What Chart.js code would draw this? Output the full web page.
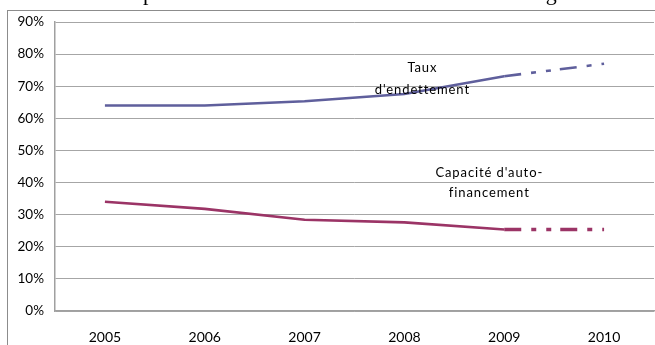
<!DOCTYPE html>
<html>
<head>
<meta charset="utf-8">
<script src="https://cdn.jsdelivr.net/npm/chart.js@4"></script>
<style>
  body { margin: 0; background: #fff; }
  canvas { display: block; }
</style>
</head>
<body>
<canvas id="chart" width="655" height="345"></canvas>
<script>
// Données
const years = ['2005', '2006', '2007', '2008', '2009', '2010'];
const tauxEndettement = [64, 64, 65.3, 67.6, 73.1, 77];
const capaciteAutofinancement = [34, 31.8, 28.4, 27.6, 25.4, 25.4];
const yTicks = [0, 10, 20, 30, 40, 50, 60, 70, 80, 90];

// Étiquettes posées dans le graphique (en valeurs d'axe)
const labelTaux = ['Taux', "d'endettement"];
const labelCaf = ["Capacité d'auto-", 'financement'];
const titre = "Capacité d'autofinancement et endettement à long terme";

const projection = [17, 10, 5, 10, 5, 9];
const dashLast = ctx => ctx.p0DataIndex === 4 ? projection : undefined;

const decor = {
    id: 'decor',
    beforeDraw(chart) {
        const c = chart.ctx;
        c.save();
        c.strokeStyle = '#8c8c8c';
        c.lineWidth = 1;
        c.strokeRect(7.5, 10.5, 700, 400);
        c.restore();
    },
    afterDraw(chart) {
        const c = chart.ctx;
        const x = chart.scales.x, y = chart.scales.y;
        c.save();
        c.fillStyle = '#000';
        c.font = '13px Lato';
        c.letterSpacing = '0.9px';
        c.textAlign = 'center';
        c.textBaseline = 'middle';
        const px1 = x.getPixelForValue(3.18);
        c.fillText(labelTaux[0], px1, y.getPixelForValue(75.6));
        c.fillText(labelTaux[1], px1, y.getPixelForValue(69));
        const px2 = x.getPixelForValue(3.85);
        c.fillText(labelCaf[0], px2, y.getPixelForValue(43));
        c.fillText(labelCaf[1], px2, y.getPixelForValue(36.8));

        // titre coupé en haut de l'image
        c.letterSpacing = '0px';
        c.font = '22px "Liberation Serif"';
        c.textAlign = 'left';
        c.textBaseline = 'alphabetic';
        const offset = c.measureText('Ca').width;
        c.fillText(titre, 143 - offset, 0);
        c.restore();
    }
};

new Chart(document.getElementById('chart'), {
    type: 'line',
    data: {
        labels: years,
        datasets: [{
            label: "Taux d'endettement",
            data: tauxEndettement,
            borderColor: '#5f5f9c',
            borderWidth: 2.6,
            pointRadius: 0,
            tension: 0,
            fill: false,
            segment: { borderDash: dashLast }
        }, {
            label: "Capacité d'autofinancement",
            data: capaciteAutofinancement,
            borderColor: '#9b3466',
            borderWidth: 2.6,
            pointRadius: 0,
            tension: 0,
            fill: false,
            segment: {
                borderDash: dashLast,
                borderWidth: ctx => ctx.p0DataIndex === 4 ? 3.4 : 2.6
            }
        }]
    },
    options: {
        responsive: false,
        animation: false,
        layout: { padding: { left: 0, top: 22, right: 1, bottom: 0 } },
        plugins: {
            legend: { display: false },
            tooltip: { enabled: false }
        },
        scales: {
            x: {
                offset: true,
                grid: { display: false, drawTicks: false },
                border: { display: true, color: '#a0a0a0', width: 1.5 },
                ticks: { color: '#000', font: { family: 'Lato', size: 14 }, padding: 18, maxRotation: 0 },
                afterFit(scale) { scale.height = 34; }
            },
            y: {
                min: 0,
                max: 90,
                afterBuildTicks(scale) { scale.ticks = yTicks.map(v => ({ value: v })); },
                grid: { color: '#a6a6a6', lineWidth: 1, drawTicks: false },
                border: { display: true, color: '#a0a0a0', width: 1.5 },
                ticks: {
                    color: '#000',
                    font: { family: 'Lato', size: 13.5 },
                    padding: 11,
                    callback: v => v + '%'
                },
                afterFit(scale) { scale.width = 55; }
            }
        }
    },
    plugins: [decor]
});
</script>
</body>
</html>
